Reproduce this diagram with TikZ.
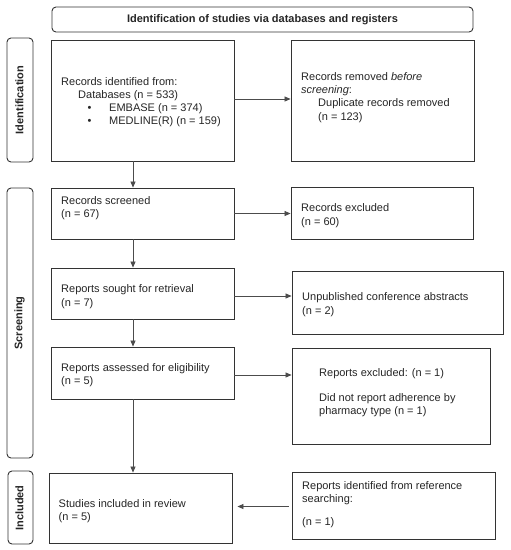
\documentclass[tikz,border=0pt]{standalone}
\usepackage{fontspec}
\setmainfont{Liberation Sans}
\usetikzlibrary{arrows.meta}
\definecolor{ink}{HTML}{262626}
\definecolor{edge}{HTML}{333333}
\tikzset{
  box/.style={draw=edge, line width=0.9pt, inner sep=0pt, fill=white},
  rbox/.style={box, rounded corners=4pt},
  txt/.style={anchor=base west, inner sep=0pt, text=ink, font=\fontsize{11}{13}\selectfont},
  side/.style={inner sep=0pt, text=ink, rotate=90, font=\fontsize{11}{13}\selectfont\bfseries},
  arr/.style={draw=black!70, line width=0.7pt, -{Triangle[length=6pt,width=5pt]}}
}
\begin{document}
\begin{tikzpicture}[x=1pt,y=-1pt]
\useasboundingbox[fill=white] (0,0) rectangle (511,550);
% header
\node[rbox, minimum width=421pt, minimum height=25pt] (hdr) at (262.5,19.5) {};
\node[inner sep=0pt, text=ink, font=\fontsize{11}{13}\selectfont\bfseries] (hdrt) at (262.5,20) {Identification of studies via databases and registers};
% side boxes
\node[rbox, minimum width=26pt, minimum height=124pt] (sideI) at (20,100) {};
\node[side] (sideIt) at (19.5,100) {Identification};
\node[rbox, minimum width=26pt, minimum height=270pt] (sideS) at (20,323) {};
\node[side] (sideSt) at (19.5,323) {Screening};
\node[rbox, minimum width=25pt, minimum height=73pt] (sideN) at (20.5,507.5) {};
\node[side] (sideNt) at (19.5,508) {Included};
% boxes
\node[box, minimum width=183pt, minimum height=121pt] (b1) at (142.5,100.5) {};
\node[box, minimum width=183pt, minimum height=121pt] (r1) at (382.5,100.5) {};
\node[box, minimum width=183pt, minimum height=51pt] (b2) at (142.5,213.5) {};
\node[box, minimum width=182pt, minimum height=52pt] (r2) at (382,213) {};
\node[box, minimum width=183pt, minimum height=51pt] (b3) at (142.5,293.5) {};
\node[box, minimum width=211pt, minimum height=63pt] (r3) at (397.5,302.5) {};
\node[box, minimum width=183pt, minimum height=52pt] (b4) at (142.5,373) {};
\node[box, minimum width=198pt, minimum height=96pt] (r4) at (391,396) {};
\node[box, minimum width=183pt, minimum height=70pt] (b5) at (140.5,508) {};
\node[box, minimum width=203pt, minimum height=67pt] (r5) at (393.5,505.5) {};
% texts
\node[txt] (t1a) at (61,85) {Records identified from:};
\node[txt] (t1b) at (78,98) {Databases (n = 533)};
\node[txt] (t1c) at (87.5,111) {•};
\node[txt] (t1d) at (109,111) {EMBASE (n = 374)};
\node[txt] (t1e) at (87.5,124.5) {•};
\node[txt] (t1f) at (109,124.5) {MEDLINE(R) (n = 159)};
\node[txt] (u1a) at (301,80) {Records removed \textit{before}};
\node[txt] (u1b) at (301,93) {\textit{screening}:};
\node[txt] (u1c) at (318,106.5) {Duplicate records removed};
\node[txt] (u1d) at (318,120) {(n = 123)};
\node[txt] (t2a) at (61,204) {Records screened};
\node[txt] (t2b) at (61,217.5) {(n = 67)};
\node[txt] (u2a) at (301,211.5) {Records excluded};
\node[txt] (u2b) at (301,225) {(n = 60)};
\node[txt] (t3a) at (61,292.5) {Reports sought for retrieval};
\node[txt] (t3b) at (61,306) {(n = 7)};
\node[txt] (u3a) at (302,300.5) {Unpublished conference abstracts};
\node[txt] (u3b) at (302,314) {(n = 2)};
\node[txt] (t4a) at (61,371) {Reports assessed for eligibility};
\node[txt] (t4b) at (61,384.5) {(n = 5)};
\node[txt] (u4a) at (319,376) {Reports excluded: (n = 1)};
\node[txt] (u4b) at (319,401) {Did not report adherence by};
\node[txt] (u4c) at (319,414) {pharmacy type (n = 1)};
\node[txt] (t5a) at (58.5,507) {Studies included in review};
\node[txt] (t5b) at (58.5,520.5) {(n = 5)};
\node[txt] (u5a) at (302,489) {Reports identified from reference};
\node[txt] (u5b) at (302,502) {searching:};
\node[txt] (u5c) at (302,525) {(n = 1)};
% horizontal arrows
\draw[arr] ([yshift=1.5pt]b1.east) -- ([yshift=1.5pt]b1.east -| r1.west);
\draw[arr] (b2.east) -- (b2.east -| r2.west);
\draw[arr] ([yshift=-2.5pt]b3.east) -- ([yshift=-2.5pt]b3.east -| r3.west);
\draw[arr] ([yshift=-2pt]b4.east) -- ([yshift=-2pt]b4.east -| r4.west);
\draw[arr, shorten <=3pt, shorten >=5pt] ([yshift=-1pt]r5.west) -- ([yshift=-1pt]r5.west -| b5.east);
% vertical arrows
\draw[arr] ([xshift=-9.5pt]b1.south) -- ([xshift=-9.5pt]b1.south |- b2.north);
\draw[arr] ([xshift=-9.5pt]b2.south) -- ([xshift=-9.5pt]b2.south |- b3.north);
\draw[arr] ([xshift=-9.5pt]b3.south) -- ([xshift=-9.5pt]b3.south |- b4.north);
\draw[arr] ([xshift=-9.5pt]b4.south) -- ([xshift=-9.5pt]b4.south |- b5.north);
\end{tikzpicture}
\end{document}
